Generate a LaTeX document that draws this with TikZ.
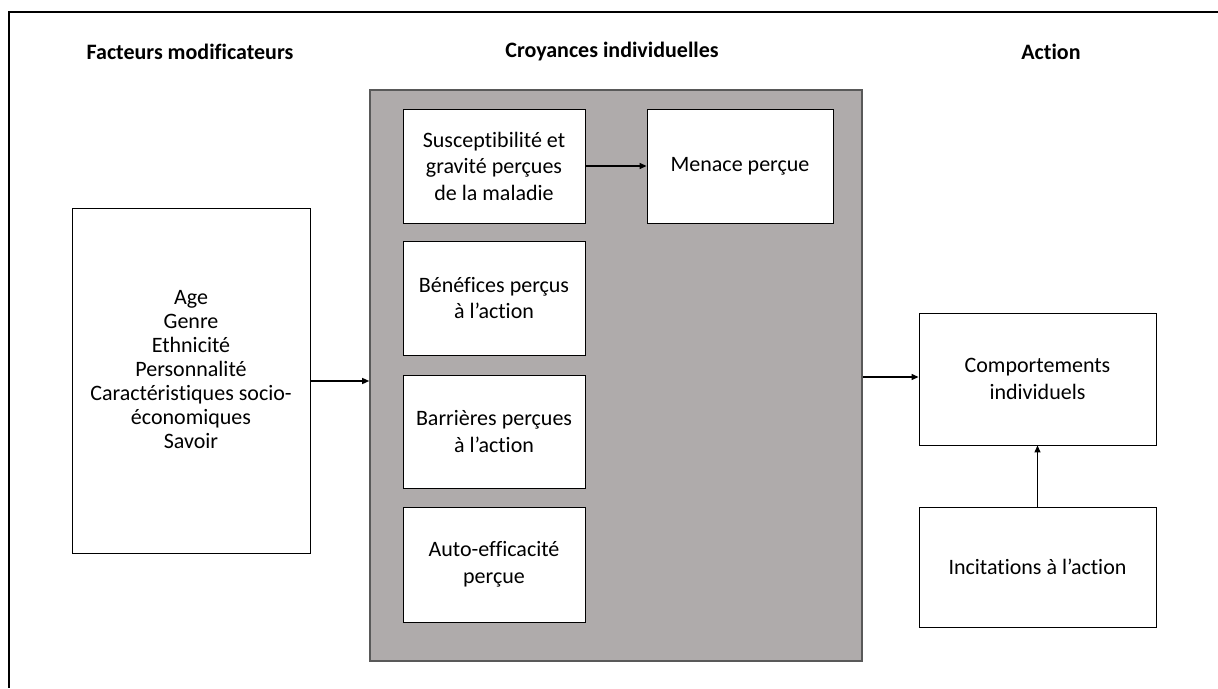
\documentclass[tikz,border=0pt]{standalone}
\usepackage{fontspec}
\setmainfont{Carlito}[Ligatures=NoCommon]
\usetikzlibrary{arrows.meta}
\definecolor{panelgrey}{HTML}{AFABAB}
\definecolor{panelline}{HTML}{595959}
\tikzset{
  box/.style={draw=black, fill=white, line width=0.9pt, align=center,
    font=\fontsize{22}{26.5}\selectfont, inner sep=0pt},
  head/.style={font=\fontsize{22}{24}\selectfont\bfseries, anchor=center},
  link/.style={draw=black, line width=1.3pt, -{Triangle[length=7pt,width=6pt]}}
}
\newcommand{\boxat}[6]{% name, x1, y1, x2, y2, text
  \node[box, minimum width=#4-#2, minimum height=#5-#3] (#1) at ({(#2+#4)/2},{(#3+#5)/2}) {#6};}
\begin{document}
\begin{tikzpicture}[x=1pt,y=-1pt]
\useasboundingbox (0,0) rectangle (1218,688);
% open frame: top and left edges only
\draw[line width=2pt] (1218,11.5) -- (8.5,11.5) -- (8.5,688);
% column headings
\node[head] (h1) at (190,52) {Facteurs modificateurs};
\node[head] (h2) at (612,52) {Croyances individuelles};
\node[head] (h3) at (1051,52) {Action};
% grey panel of beliefs
\node[draw=panelline, fill=panelgrey, line width=1.6pt, minimum width=492, minimum height=571, inner sep=0pt] (panel) at (616,375.5) {};
% modifying factors (box drawn first, its list set slightly above centre)
\boxat{facteurs}{72}{208}{310}{553}{}
\node[font=\fontsize{22}{24}\selectfont, align=center, inner sep=0pt] (liste) at (191,370)
  {Age\\Genre\\Ethnicité\\Personnalité\\Caractéristiques socio-\\économiques\\Savoir};
% beliefs
\boxat{susc}{403}{109}{585}{223}{Susceptibilité et\\gravité perçues\\de la maladie}
\boxat{menace}{647}{109}{833}{223}{Menace perçue}
\boxat{benef}{403}{241}{585}{355}{Bénéfices perçus\\à l’action}
\boxat{barr}{403}{375}{585}{488}{Barrières perçues\\à l’action}
\boxat{auto}{403}{507}{585}{622}{Auto-efficacité\\perçue}
% action
\boxat{comp}{919}{313}{1156}{445}{Comportements\\individuels}
\boxat{incit}{919}{507}{1156}{627}{Incitations à l’action}
% connectors
\draw[link] (facteurs.east |- 0,381) -- (panel.west |- 0,381);
\draw[link] (panel.east |- 0,377) -- (comp.west |- 0,377);
\draw[link] (susc.east) -- (menace.west);
\draw[link] (incit.north) -- (comp.south);
\end{tikzpicture}
\end{document}
